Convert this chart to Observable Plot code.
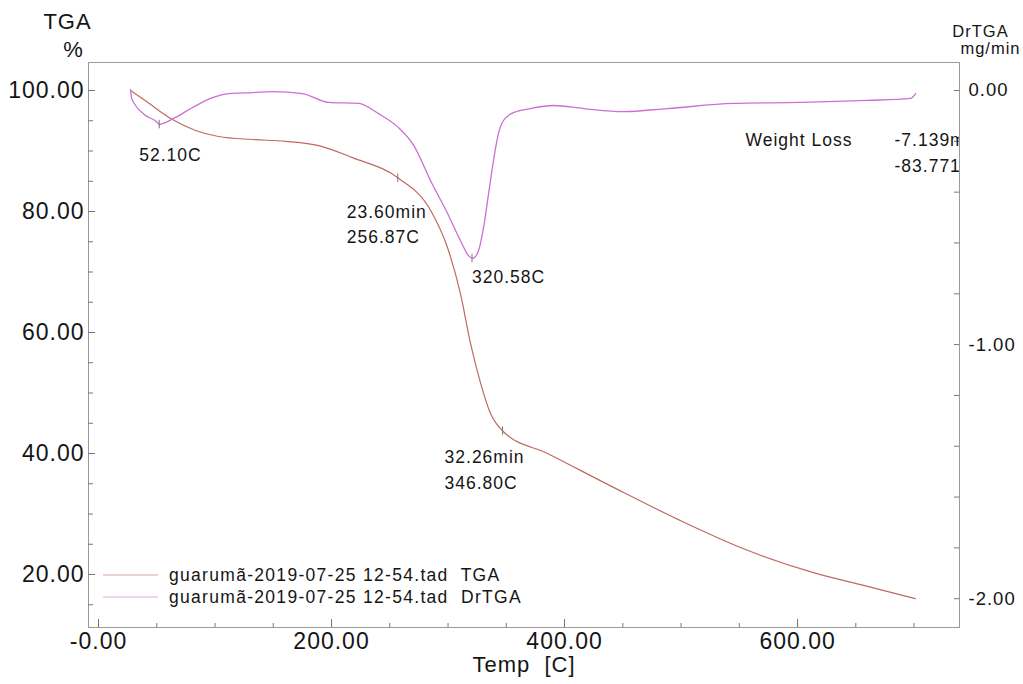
<!DOCTYPE html>
<html><head><meta charset="utf-8">
<script src="https://cdn.jsdelivr.net/npm/d3@7"></script>
<script src="https://cdn.jsdelivr.net/npm/@observablehq/plot@0.6"></script>
<style>
body{margin:0;background:#fff}
svg text{letter-spacing:1px}
</style>
</head><body><div id="chart"></div>
<script>
// TGA curve (Temp °C, weight %)
const tgaTemp  = [27.5, 40.3, 63.5, 83.3, 103, 132, 160.5, 189, 218, 257.5, 285, 299.6, 310.7, 319.3, 328, 336.5, 347.6, 385.4, 442, 499.6, 557, 613.7, 656.7, 701];
const tgaValue = [100, 98.3, 95.2, 93.4, 92.4, 91.9, 91.6, 90.9, 88.9, 85.5, 80.2, 74.0, 66.4, 58.2, 51.6, 46.6, 43.6, 40.0, 34.4, 28.9, 24.0, 20.3, 18.2, 16.0];
// DrTGA curve (Temp °C, mg/min)
const drTemp  = [27.5, 28.3, 31.8, 40.3, 50.6, 52.1, 57.5, 66.1, 80.7, 97.9, 111.6, 132.2, 149.4, 175.1, 197.4, 223.2, 240.3, 257.5, 270.4, 285, 299.6, 310.7, 317.6, 321, 326.2, 330.5, 334.8, 339, 343.3, 347.6, 356.2, 370.8, 390.6, 416.3, 450.6, 488.4, 545, 602.6, 660, 697, 701.3];
const drValue = [0.004, -0.028, -0.059, -0.098, -0.126, -0.134, -0.126, -0.106, -0.067, -0.028, -0.012, -0.008, -0.004, -0.012, -0.047, -0.051, -0.091, -0.146, -0.215, -0.355, -0.484, -0.591, -0.650, -0.661, -0.630, -0.539, -0.406, -0.276, -0.169, -0.118, -0.087, -0.071, -0.059, -0.071, -0.083, -0.071, -0.051, -0.047, -0.039, -0.031, -0.012];

// annotations
const peakTemp = [52.10, 320.58];
const peakDr = [-0.134, -0.661];
const peakLabel = ["52.10C", "320.58C"];
const stepTemp = [256.87, 346.80];
const stepTGA = [85.5, 43.7];
const stepTime = ["23.60min", "32.26min"];
const stepLabel = ["256.87C", "346.80C"];
const lossLabels = ["Weight Loss", "-7.139mg", "-83.771%"];

// ticks
const xTicks = [0, 200, 400, 600];
const xMinor = [0, 50, 100, 150, 200, 250, 300, 350, 400, 450, 500, 550, 600, 650, 700];
const yLeftTicks = [20, 40, 60, 80, 100];
const yLeftMinor = [15, 20, 25, 30, 35, 40, 45, 50, 55, 60, 65, 70, 75, 80, 85, 90, 95, 100];
const yRightTicks = [0, -1, -2];
const yRightMinor = [0, -0.2, -0.4, -0.6, -0.8, -1, -1.2, -1.4, -1.6, -1.8, -2];
const legendLabels = ["guarumã-2019-07-25 12-54.tad  TGA", "guarumã-2019-07-25 12-54.tad  DrTGA"];

const K = 42; // DrTGA -> TGA axis mapping (0 mg/min at 100 %)
const toY = d => 100 + K * d;

const tga = tgaTemp.map((t, i) => ({t, v: tgaValue[i]}));
const dr = drTemp.map((t, i) => ({t, v: toY(drValue[i])}));
const peaks = peakTemp.map((t, i) => ({t, v: toY(peakDr[i]), label: peakLabel[i]}));
const steps = stepTemp.map((t, i) => ({t, v: stepTGA[i], time: stepTime[i], label: stepLabel[i]}));

const cTGA = "#bf6a60";
const cDr = "#cc6fd4";
const ink = "#151515";
const W = 1023, H = 684, ML = 88, MR = 64, MT = 62, MB = 57;
const FW = W - ML - MR, FH = H - MT - MB;
const font = "'Liberation Sans', Arial, sans-serif";

function legend(index, scales, values, dim) {
  const g = d3.create("svg:g");
  const cols = [cTGA, cDr];
  legendLabels.forEach((lab, i) => {
    const y = dim.height - dim.marginBottom - 52 + i * 22;
    g.append("line").attr("x1", dim.marginLeft + 15).attr("x2", dim.marginLeft + 70)
      .attr("y1", y).attr("y2", y).attr("stroke", cols[i]).attr("stroke-opacity", 0.6).attr("stroke-width", 1.2);
    g.append("text").attr("x", dim.marginLeft + 81).attr("y", y + 1)
      .attr("text-anchor", "start").style("letter-spacing", "1.3px")
      .attr("dominant-baseline", "middle").attr("font-size", 17.5).attr("fill", ink).text(lab);
  });
  return g.node();
}

const T = (opts) => ({fill: ink, lineAnchor: "middle", fontSize: 17.5, ...opts});

const chart = Plot.plot({
  width: W, height: H,
  marginLeft: ML, marginRight: MR, marginTop: MT, marginBottom: MB,
  x: {domain: [-8.6, 739]},
  y: {domain: [11.24, 104.63]},
  style: {fontFamily: font, color: ink, background: "#fff"},
  marks: [
    Plot.frame({stroke: "#9a9a9a"}),
    // axis tick marks (inward)
    Plot.tickX(xMinor, {x: d => d, insetTop: FH - 4, stroke: "#777"}),
    Plot.tickX(xTicks, {x: d => d, insetTop: FH - 8, stroke: "#777"}),
    Plot.tickY(yLeftMinor, {y: d => d, insetRight: FW - 5, stroke: "#777"}),
    Plot.tickY(yLeftTicks, {y: d => d, insetRight: FW - 7, stroke: "#777"}),
    Plot.tickY(yRightMinor.map(toY), {y: d => d, insetLeft: FW - 5, stroke: "#777"}),
    // axes labels
    Plot.axisX({ticks: xTicks, tickFormat: d => d === 0 ? "-0.00" : d.toFixed(2), tickSize: 0, tickPadding: 5, fontSize: 23, label: null}),
    Plot.axisY({anchor: "left", ticks: yLeftTicks, tickFormat: d => d.toFixed(2), tickSize: 0, tickPadding: 4, fontSize: 23, label: null}),
    Plot.axisY({anchor: "right", ticks: yRightTicks.map(toY), tickFormat: v => ((v - 100) / K).toFixed(2), tickSize: 0, tickPadding: 9, fontSize: 18.5, label: null}),
    // curves
    Plot.line(tga, {x: "t", y: "v", stroke: cTGA, strokeWidth: 1.2, curve: "monotone-x"}),
    Plot.line(dr, {x: "t", y: "v", stroke: cDr, strokeWidth: 1.3, curve: "monotone-x"}),
    // marker ticks
    Plot.ruleX(peaks, {x: "t", y1: d => d.v - 0.7, y2: d => d.v + 0.7, stroke: "#777"}),
    Plot.ruleX(steps, {x: "t", y1: d => d.v - 0.7, y2: d => d.v + 0.7, stroke: "#777"}),
    // annotations
    Plot.text([peaks[0]], T({x: "t", y: "v", text: "label", textAnchor: "start", dx: -20, dy: 31})),
    Plot.text([peaks[1]], T({x: "t", y: "v", text: "label", textAnchor: "start", dx: 0, dy: 19})),
    Plot.text([steps[0]], T({x: "t", y: "v", text: "time", textAnchor: "start", dx: -51, dy: 34})),
    Plot.text([steps[0]], T({x: "t", y: "v", text: "label", textAnchor: "start", dx: -51, dy: 59})),
    Plot.text([steps[1]], T({x: "t", y: "v", text: "time", textAnchor: "start", dx: -58, dy: 26})),
    Plot.text([steps[1]], T({x: "t", y: "v", text: "label", textAnchor: "start", dx: -58, dy: 52})),
    Plot.text([lossLabels[0]], T({frameAnchor: "top-left", dx: 745 - ML, dy: 140 - MT, textAnchor: "start"})),
    Plot.text([lossLabels[1]], T({frameAnchor: "top-left", dx: 894 - ML, dy: 140 - MT, textAnchor: "start", clip: true})),
    Plot.text([lossLabels[2]], T({frameAnchor: "top-left", dx: 894 - ML, dy: 166 - MT, textAnchor: "start", clip: true})),
    // titles
    Plot.text(["TGA"], T({frameAnchor: "top-left", textAnchor: "middle", dx: -21, dy: -41, fontSize: 22})),
    Plot.text(["%"], T({frameAnchor: "top-left", textAnchor: "middle", dx: -15, dy: -13, fontSize: 22})),
    Plot.text(["DrTGA"], T({frameAnchor: "top-right", textAnchor: "middle", dx: 21, dy: -31, fontSize: 16.5})),
    Plot.text(["mg/min"], T({frameAnchor: "top-right", textAnchor: "middle", dx: 31, dy: -14, fontSize: 16.5})),
    Plot.text(["Temp  [C]"], T({frameAnchor: "bottom", textAnchor: "middle", dy: 37, fontSize: 22})),
    legend
  ]
});
document.getElementById("chart").append(chart);
</script>
</body></html>
